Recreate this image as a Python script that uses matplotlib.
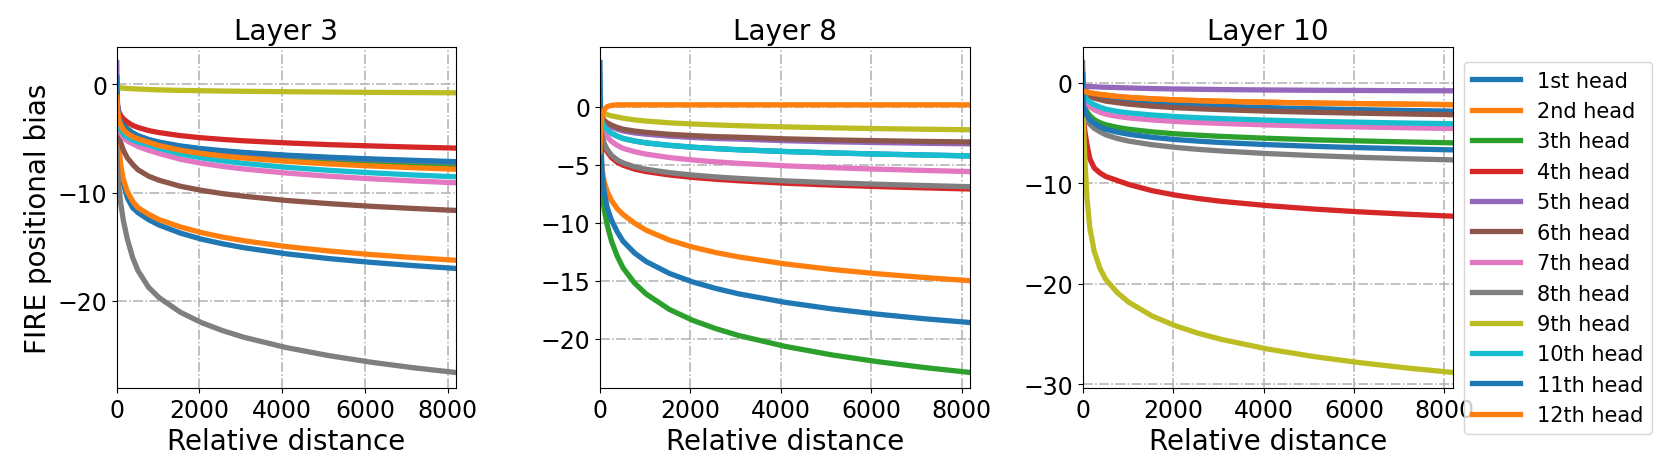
import numpy as np
import matplotlib
matplotlib.use("Agg")
import matplotlib.pyplot as plt

# ------------------------------------------------------------
# Data (relative distance, bias values)
# ------------------------------------------------------------

DIST = [0, 16, 48, 96, 160, 256, 384, 512, 768, 1024, 1536, 2048,
        2560, 3072, 4096, 5120, 6144, 7168, 8192]

HEAD_LABELS = ["1st head", "2nd head", "3th head", "4th head", "5th head",
               "6th head", "7th head", "8th head", "9th head", "10th head",
               "11th head", "12th head"]

LAYER_TITLES = ["Layer 3", "Layer 8", "Layer 10"]

layer3_bias = [
    [0.5, -3.8, -6.0, -7.8, -9.2, -10.5, -11.4, -11.85, -12.5, -13.0, -13.74, -14.3, -14.73, -15.09, -15.65, -16.09, -16.44, -16.74, -17.0],
    [-2.0, -3.5, -5.6, -7.5, -8.8, -9.9, -10.8, -11.4, -12.0, -12.5, -13.17, -13.7, -14.11, -14.45, -14.98, -15.39, -15.72, -16.0, -16.25],
    [-1.5, -2.3, -2.9, -3.3, -3.7, -4.1, -4.5, -4.8, -5.2, -5.47, -5.87, -6.15, -6.37, -6.55, -6.83, -7.04, -7.22, -7.37, -7.5],
    [-1.0, -1.9, -2.5, -2.9, -3.2, -3.5, -3.8, -4.0, -4.28, -4.47, -4.75, -4.95, -5.1, -5.23, -5.42, -5.58, -5.7, -5.81, -5.9],
    [2.0, -1.6, -3.0, -3.55, -3.9, -4.25, -4.55, -4.8, -5.15, -5.4, -5.75, -6.0, -6.19, -6.35, -6.6, -6.79, -6.95, -7.08, -7.2],
    [-2.5, -3.5, -4.6, -5.4, -6.1, -6.8, -7.4, -7.9, -8.49, -8.87, -9.42, -9.8, -10.1, -10.34, -10.73, -11.02, -11.27, -11.47, -11.65],
    [-2.2, -2.9, -3.9, -4.5, -4.9, -5.25, -5.5, -5.75, -6.1, -6.4, -6.93, -7.3, -7.59, -7.83, -8.2, -8.49, -8.73, -8.93, -9.1],
    [-6.0, -7.7, -9.4, -11.0, -12.6, -14.3, -16.0, -17.2, -18.74, -19.7, -21.04, -22.0, -22.74, -23.35, -24.3, -25.04, -25.65, -26.16, -26.6],
    [-0.2, -0.3, -0.3, -0.35, -0.37, -0.4, -0.43, -0.45, -0.5, -0.53, -0.58, -0.61, -0.64, -0.66, -0.7, -0.73, -0.76, -0.78, -0.8],
    [-2.0, -2.7, -3.6, -4.2, -4.6, -4.9, -5.15, -5.35, -5.6, -5.93, -6.44, -6.8, -7.08, -7.31, -7.67, -7.95, -8.18, -8.38, -8.55],
    [0.6, -2.0, -3.0, -3.5, -3.85, -4.2, -4.5, -4.75, -5.1, -5.35, -5.7, -5.95, -6.14, -6.3, -6.55, -6.74, -6.9, -7.03, -7.15],
    [-1.2, -2.3, -3.2, -3.8, -4.2, -4.55, -4.85, -5.05, -5.37, -5.67, -6.1, -6.4, -6.63, -6.82, -7.12, -7.36, -7.55, -7.71, -7.85],
]

layer8_bias = [
    [-0.5, -0.9, -1.3, -1.7, -2.0, -2.3, -2.55, -2.75, -2.97, -3.13, -3.34, -3.5, -3.62, -3.72, -3.87, -3.99, -4.09, -4.17, -4.25],
    [-3.0, -4.2, -5.4, -6.5, -7.3, -8.1, -8.8, -9.3, -10.05, -10.65, -11.5, -12.1, -12.57, -12.95, -13.55, -14.02, -14.4, -14.72, -15.0],
    [-4.0, -5.5, -7.3, -8.9, -10.2, -11.6, -12.9, -13.9, -15.21, -16.15, -17.47, -18.4, -19.12, -19.72, -20.65, -21.38, -21.97, -22.47, -22.9],
    [-1.0, -1.8, -2.7, -3.4, -3.9, -4.4, -4.8, -5.05, -5.39, -5.6, -5.89, -6.1, -6.26, -6.39, -6.6, -6.76, -6.89, -7.0, -7.1],
    [-0.55, -0.75, -1.05, -1.35, -1.55, -1.75, -1.95, -2.1, -2.27, -2.38, -2.55, -2.66, -2.75, -2.8, -2.94, -3.03, -3.1, -3.16, -3.21],
    [-0.4, -0.6, -0.9, -1.2, -1.4, -1.6, -1.8, -1.95, -2.11, -2.22, -2.39, -2.5, -2.59, -2.64, -2.78, -2.87, -2.94, -3.0, -3.05],
    [-0.6, -1.1, -1.7, -2.2, -2.6, -3.0, -3.35, -3.6, -3.89, -4.1, -4.39, -4.6, -4.76, -4.89, -5.1, -5.26, -5.39, -5.5, -5.6],
    [-0.8, -1.6, -2.5, -3.2, -3.7, -4.2, -4.6, -4.85, -5.19, -5.4, -5.69, -5.9, -6.06, -6.19, -6.4, -6.56, -6.69, -6.8, -6.9],
    [-0.2, -0.3, -0.45, -0.6, -0.7, -0.8, -0.9, -1.0, -1.15, -1.25, -1.4, -1.5, -1.58, -1.65, -1.75, -1.83, -1.9, -1.95, -2.0],
    [-0.5, -0.9, -1.3, -1.7, -2.0, -2.3, -2.55, -2.75, -2.97, -3.13, -3.34, -3.5, -3.62, -3.72, -3.87, -3.99, -4.09, -4.17, -4.25],
    [3.8, -2.0, -5.8, -7.4, -8.7, -9.8, -10.8, -11.6, -12.62, -13.35, -14.37, -15.1, -15.66, -16.13, -16.86, -17.42, -17.88, -18.27, -18.6],
    [-3.9, -2.2, -0.8, -0.25, 0.0, 0.1, 0.15, 0.15, 0.15, 0.15, 0.15, 0.15, 0.15, 0.15, 0.15, 0.15, 0.15, 0.15, 0.15],
]

layer10_bias = [
    [1.0, -0.65, -0.75, -0.9, -1.05, -1.2, -1.35, -1.5, -1.65, -1.8, -2.0, -2.15, -2.26, -2.35, -2.5, -2.61, -2.7, -2.78, -2.85],
    [-0.8, -0.85, -0.9, -0.97, -1.03, -1.1, -1.18, -1.25, -1.38, -1.48, -1.62, -1.72, -1.8, -1.86, -1.96, -2.04, -2.1, -2.15, -2.2],
    [-1.5, -1.9, -2.4, -2.9, -3.3, -3.7, -4.0, -4.2, -4.46, -4.65, -4.91, -5.1, -5.24, -5.36, -5.55, -5.7, -5.81, -5.91, -6.0],
    [-2.5, -3.4, -4.8, -6.2, -7.6, -8.5, -9.0, -9.35, -9.75, -10.15, -10.76, -11.2, -11.54, -11.82, -12.25, -12.59, -12.87, -13.1, -13.3],
    [-1.0, -0.6, -0.45, -0.4, -0.4, -0.42, -0.45, -0.47, -0.5, -0.54, -0.6, -0.64, -0.67, -0.7, -0.74, -0.77, -0.79, -0.81, -0.82],
    [-0.9, -1.0, -1.1, -1.25, -1.4, -1.55, -1.7, -1.85, -2.0, -2.15, -2.35, -2.5, -2.61, -2.7, -2.85, -2.96, -3.05, -3.13, -3.2],
    [-1.0, -1.3, -1.7, -2.1, -2.4, -2.7, -2.95, -3.15, -3.37, -3.52, -3.72, -3.87, -3.98, -4.07, -4.22, -4.33, -4.42, -4.5, -4.57],
    [2.0, -2.5, -3.2, -3.75, -4.15, -4.55, -4.9, -5.2, -5.57, -5.83, -6.19, -6.45, -6.65, -6.81, -7.07, -7.27, -7.44, -7.58, -7.7],
    [-2.0, -4.0, -7.5, -11.5, -14.5, -16.8, -18.5, -19.6, -20.91, -21.87, -23.23, -24.2, -24.95, -25.56, -26.52, -27.27, -27.88, -28.4, -28.85],
    [-1.0, -1.2, -1.45, -1.7, -1.95, -2.2, -2.45, -2.65, -2.87, -3.02, -3.23, -3.38, -3.5, -3.59, -3.74, -3.86, -3.95, -4.03, -4.1],
    [0.8, -2.2, -2.8, -3.3, -3.7, -4.05, -4.4, -4.65, -4.94, -5.15, -5.45, -5.67, -5.83, -5.97, -6.18, -6.35, -6.48, -6.6, -6.7],
    [-0.8, -0.85, -0.9, -0.97, -1.03, -1.1, -1.18, -1.25, -1.38, -1.48, -1.62, -1.72, -1.8, -1.86, -1.96, -2.04, -2.1, -2.15, -2.2],
]

LAYER_YTICKS = [[-20, -10, 0], [-20, -15, -10, -5, 0], [-30, -20, -10, 0]]
XTICKS = [0, 2000, 4000, 6000, 8000]

# tab10 cycle, heads 11/12 wrap back to blue/orange
COLORS = plt.rcParams["axes.prop_cycle"].by_key()["color"]


# ------------------------------------------------------------
# Figure
# ------------------------------------------------------------

fig = plt.figure(figsize=(16.61, 4.77), dpi=100)

# [left, bottom, width, height] in figure fractions
AX_RECTS = [
    [0.0703, 0.1845, 0.204, 0.715],
    [0.3612, 0.1845, 0.223, 0.715],
    [0.6518, 0.1845, 0.223, 0.715],
]

all_layers = [layer3_bias, layer8_bias, layer10_bias]

for i, (title, layer) in enumerate(zip(LAYER_TITLES, all_layers)):
    ax = fig.add_axes(AX_RECTS[i])
    for h, values in enumerate(layer):
        ax.plot(DIST, values, color=COLORS[h % 10], linewidth=3.8,
                label=HEAD_LABELS[h])

    ax.set_xlim(0, 8192)
    ax.set_xticks(XTICKS)
    ax.set_yticks(LAYER_YTICKS[i])
    ax.grid(True, linestyle="-.", color="#b0b0b0", linewidth=1.1)
    ax.tick_params(labelsize=17)
    ax.set_title(title, fontsize=20)
    ax.set_xlabel("Relative distance", fontsize=20)
    if i == 0:
        ax.set_ylabel("FIRE positional bias", fontsize=20)
    if i == 2:
        ax.legend(loc="upper left", bbox_to_anchor=(1.03, 0.955),
                  fontsize=15, handlelength=2.3, borderaxespad=0.0)

fig.savefig("out.png", dpi=100)
